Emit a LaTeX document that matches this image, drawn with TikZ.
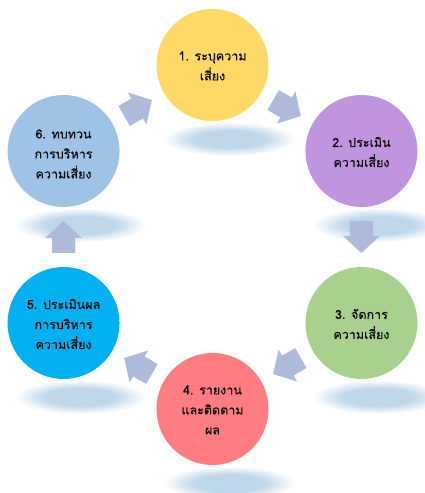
\documentclass[tikz,border=0pt]{standalone}
\usepackage{fontspec}
\newfontfamily\thaifont[Script=Thai, FakeBold=0.5]{Loma}
\usetikzlibrary{calc}
\definecolor{shc}{RGB}{190,215,235}
\definecolor{arrowc}{RGB}{174,186,220}
\definecolor{cyel}{RGB}{255,217,102}
\definecolor{cpur}{RGB}{192,148,222}
\definecolor{cgrn}{RGB}{169,209,142}
\definecolor{cred}{RGB}{255,124,128}
\definecolor{cblu}{RGB}{0,176,240}
\definecolor{clbl}{RGB}{157,195,230}
\definecolor{txtc}{RGB}{10,10,10}
\pgfdeclareradialshading{softsh}{\pgfpoint{0bp}{0bp}}{color(0bp)=(shc); color(13bp)=(shc); color(25bp)=(white)}
\newcommand\rskarrow[3]{\fill[arrowfill, shift={($(#1)!0.5!(#2)$)}, rotate=#3]
  (-16,-11.5) -- (-1,-11.5) -- (-1,-18.5) -- (16,0) -- (-1,18.5) -- (-1,11.5) -- (-16,11.5) -- cycle;}
\newcommand\rskshadow[1]{\path[shading=softsh] ($(#1)+(17,-74)$) ellipse [x radius=66, y radius=17];}
\tikzset{
  stepcircle/.style={circle, draw=none, minimum size=112pt, inner sep=0pt},
  txt/.style={align=center, text=txtc, font=\thaifont\fontsize{12.5}{20}\selectfont, inner sep=0pt},
  arrowfill/.style={fill=arrowc, draw=none}
}
\begin{document}
\begin{tikzpicture}[x=1pt,y=1pt]
\useasboundingbox (0,0) rectangle (425,493);
\coordinate (O) at (212.5,256);
\coordinate (p1) at ($(O)+(90:172)$);
\coordinate (p2) at ($(O)+(30:172)$);
\coordinate (p3) at ($(O)+(-30:172)$);
\coordinate (p4) at ($(O)+(-90:172)$);
\coordinate (p5) at ($(O)+(210:172)$);
\coordinate (p6) at ($(O)+(150:172)$);
% shadows
\foreach \i in {1,...,6}{\rskshadow{p\i}}
% circles
\node[stepcircle, fill=cyel] (c1) at (p1) {};
\node[stepcircle, fill=cpur] (c2) at (p2) {};
\node[stepcircle, fill=cgrn] (c3) at (p3) {};
\node[stepcircle, fill=cred] (c4) at (p4) {};
\node[stepcircle, fill=cblu] (c5) at (p5) {};
\node[stepcircle, fill=clbl] (c6) at (p6) {};
% texts
\node[txt] (t1) at ($(c1)+(0,-1)$) {1. ระบุความ\\เสี่ยง};
\node[txt] (t2) at ($(c2)+(0,-1)$) {2. ประเมิน\\ความเสี่ยง};
\node[txt] (t3) at ($(c3)+(0,-1)$) {3. จัดการ\\ความเสี่ยง};
\node[txt] (t4) at ($(c4)+(0,-1)$) {4. รายงาน\\และติดตาม\\ผล};
\node[txt] (t5) at ($(c5)+(0,-1)$) {5. ประเมินผล\\การบริหาร\\ความเสี่ยง};
\node[txt] (t6) at ($(c6)+(0,-3)$) {6. ทบทวน\\การบริหาร\\ความเสี่ยง};
% arrows
\rskarrow{c1}{c2}{-30}
\rskarrow{c2}{c3}{-90}
\rskarrow{c3}{c4}{210}
\rskarrow{c4}{c5}{150}
\rskarrow{c5}{c6}{90}
\rskarrow{c6}{c1}{30}
\end{tikzpicture}
\end{document}
